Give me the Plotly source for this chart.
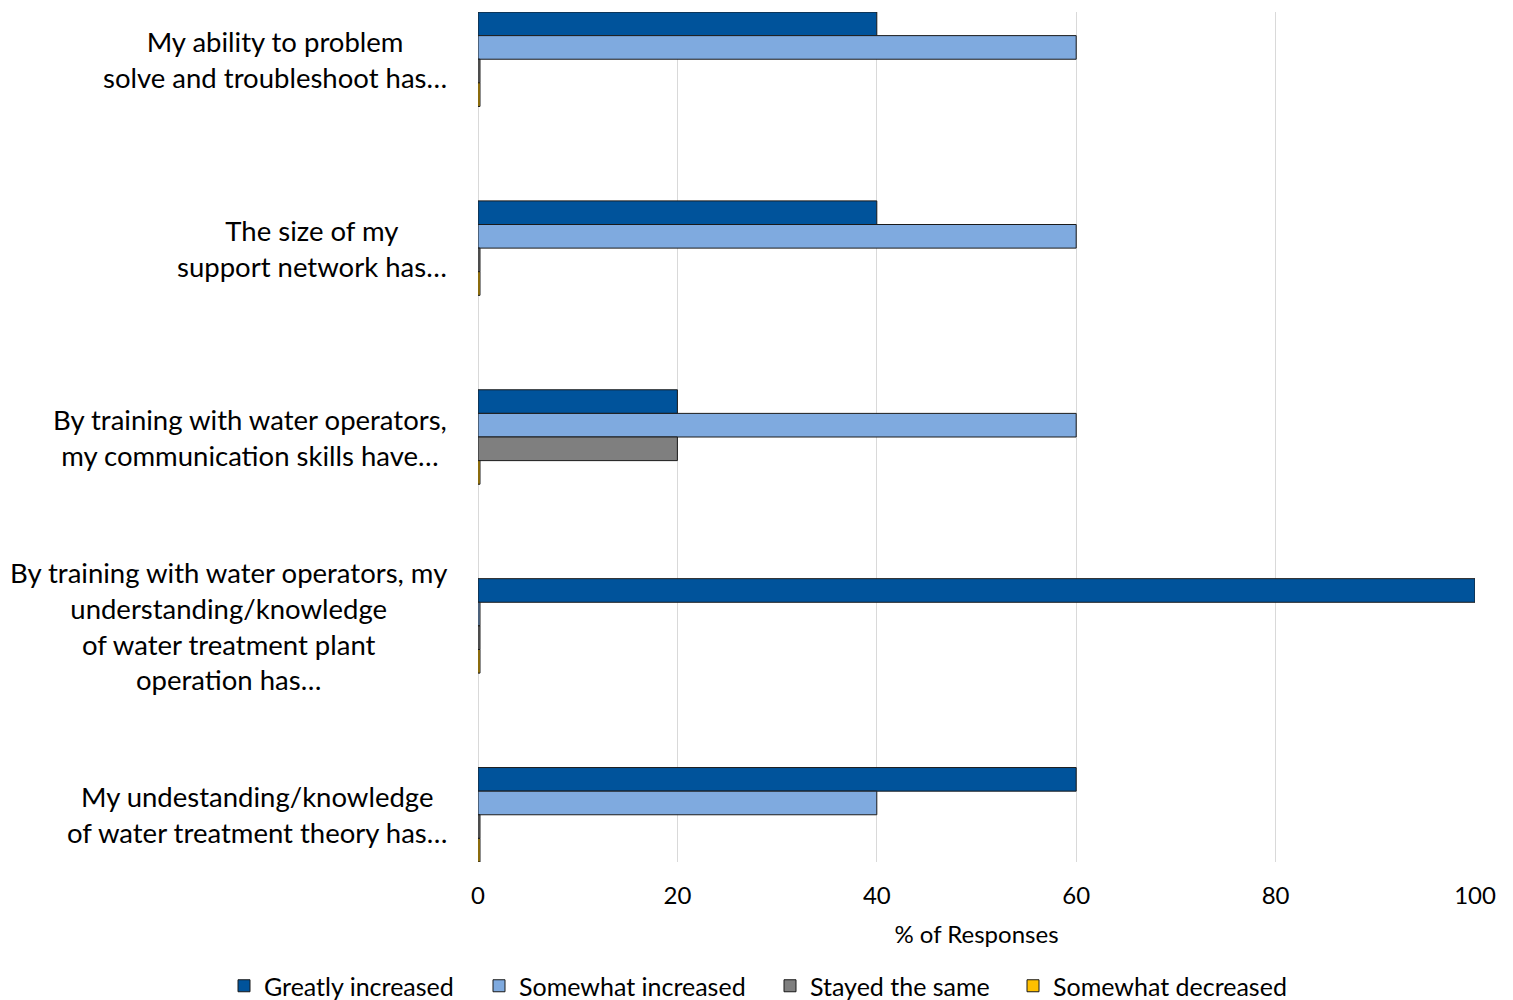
import plotly.graph_objects as go

# ---- data ----
categories = [
    "My ability to problem<br>solve and troubleshoot has…",
    "The size of my<br>support network has…",
    "By training with water operators,<br>my communication skills have…",
    "By training with water operators, my<br>understanding/knowledge<br>of water treatment plant<br>operation has…",
    "My undestanding/knowledge<br>of water treatment theory has…",
]
series_names = ["Greatly increased", "Somewhat increased", "Stayed the same", "Somewhat decreased"]
greatly_increased = [40, 40, 20, 100, 60]
somewhat_increased = [60, 60, 60, 0, 40]
stayed_same = [0, 0, 20, 0, 0]
somewhat_decreased = [0, 0, 0, 0, 0]
x_tick_values = [0, 20, 40, 60, 80, 100]
x_title = "% of Responses"

series_values = [greatly_increased, somewhat_increased, stayed_same, somewhat_decreased]
colors = ["#00539B", "#7FAADF", "#7F7F7F", "#FFC000"]

FONT = "Lato"
ZERO_SLIVER = 0.2  # zero-valued bars shown as a thin sliver, like the original
W, H = 1513, 1000
legend_left_px = [224, 479, 770, 1013]
legend_ids = ["legend", "legend2", "legend3", "legend4"]

fig = go.Figure()
positions = list(range(len(categories)))
for name, vals, col, lid in zip(series_names, series_values, colors, legend_ids):
    fig.add_trace(go.Bar(
        orientation="h",
        y=positions,
        x=[v if v > 0 else ZERO_SLIVER for v in vals],
        customdata=vals,
        hovertemplate="%{customdata}<extra>" + name + "</extra>",
        name=name,
        legend=lid,
        marker=dict(color=col, line=dict(color="#1a1a1a", width=1)),
    ))

for i, cat in enumerate(categories):
    fig.add_annotation(
        x=-29 / 997, xref="paper", y=i, yref="y",
        text=cat, showarrow=False, xanchor="right", yanchor="middle",
        align="center", font=dict(family=FONT, size=27.5, color="#000000"),
    )

legend_layouts = {}
for lid, px in zip(legend_ids, legend_left_px):
    legend_layouts[lid] = dict(
        orientation="h",
        xref="container", yref="container",
        x=px / W, xanchor="left", y=14 / H, yanchor="middle",
        font=dict(family=FONT, size=25, color="#000000"),
        itemwidth=30, bgcolor="rgba(0,0,0,0)",
    )

fig.update_layout(
    width=W, height=H,
    margin=dict(l=478, r=38, t=12, b=138),
    paper_bgcolor="white", plot_bgcolor="white",
    barmode="group", bargap=0.5, bargroupgap=0,
    font=dict(family=FONT, color="#000000"),
    showlegend=True,
    **legend_layouts,
)
fig.update_xaxes(
    range=[0, 100], tickvals=x_tick_values, ticks="",
    showgrid=True, gridcolor="#D9D9D9", gridwidth=1,
    zeroline=True, zerolinecolor="#D9D9D9", zerolinewidth=1,
    showline=False,
    tickfont=dict(family=FONT, size=24, color="#000000"),
    ticklabelstandoff=17,
    title=dict(text=x_title, font=dict(family=FONT, size=24, color="#000000"), standoff=18),
)
fig.update_yaxes(
    range=[len(categories) - 0.75, -0.25],
    showticklabels=False, showgrid=False, zeroline=False, showline=False, ticks="",
)

fig.write_html("out.html", config={"displayModeBar": False},
               post_script="document.body.style.margin='0';")
